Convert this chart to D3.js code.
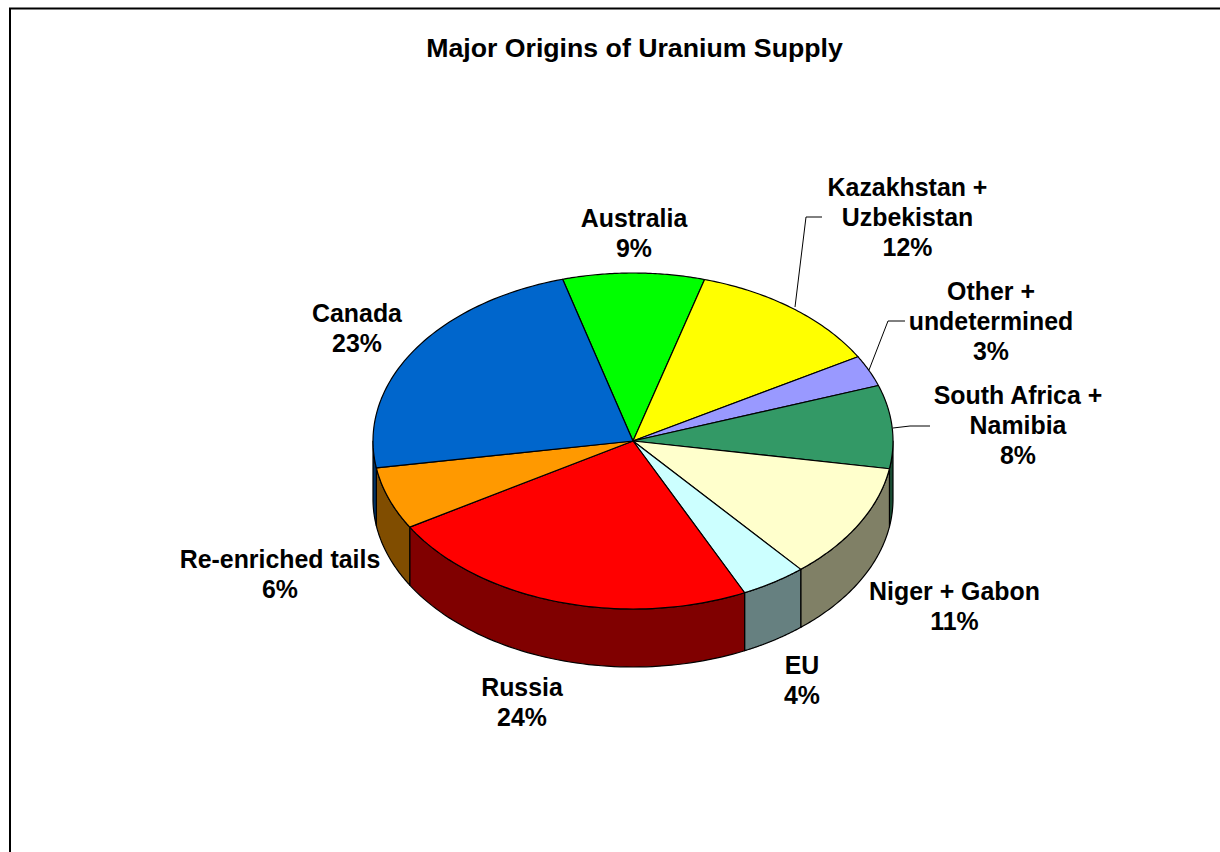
<!DOCTYPE html>
<html><head><meta charset="utf-8">
<script src="https://cdn.jsdelivr.net/npm/d3@7/dist/d3.min.js"></script>
<style>
html,body{margin:0;padding:0;background:#fff;overflow:hidden}
svg{display:block}
text{font-family:"Liberation Sans",Arial,sans-serif;font-weight:bold;fill:#000;text-anchor:middle}
</style></head><body>
<svg id="c" width="1220" height="852"></svg>
<script>
const categories=["Australia","Kazakhstan + Uzbekistan","Other + undetermined","South Africa + Namibia","Niger + Gabon","EU","Russia","Re-enriched tails","Canada"];
const values=[8.8,12.2,3.0,8.0,11.2,4.1,23.5,6.0,23.2];
const percentLabels=["9%","12%","3%","8%","11%","4%","24%","6%","23%"];
const topColors=["#00FF00","#FFFF00","#9999FF","#339966","#FFFFCC","#CCFFFF","#FF0000","#FF9900","#0066CC"];
const wallColors=["#008000","#808000","#4D4D80","#1A4D33","#808066","#668080","#800000","#804D00","#003366"];
const labelLines=[["Australia"],["Kazakhstan +","Uzbekistan"],["Other +","undetermined"],["South Africa +","Namibia"],["Niger + Gabon"],["EU"],["Russia"],["Re-enriched tails"],["Canada"]];
const labelCentres=[[634,218],[907.5,187],[991,291],[1018,395],[954.5,591],[802,665],[522,687],[280,559],[357,313]];
const leaders=[null,[[795,307],[806,217],[822,217]],[[869,370],[888,321],[905,321]],[[893,428],[910,426],[930,426]],null,null,null,null,null];

const title="Major Origins of Uranium Supply";
const cx=633,cy=441,rx=260,ry=168,depth=58,lineH=30;
const svg=d3.select("#c");
// The frame shows only its top and left edges in the reference
svg.append("path").attr("d",line2([[10,852],[10,8.5],[1220,8.5]]))
  .attr("fill","none").attr("stroke","#000").attr("stroke-width",2);
function line2(p){return d3.line()(p);}
svg.append("text").attr("x",634.5).attr("y",57).attr("font-size",26.7).text(title);

const start=-15.7*Math.PI/180;
const pie=d3.pie().sort(null).value(d=>d).startAngle(start).endAngle(start+2*Math.PI);
const arcs=pie(values);
const px=d3.scaleLinear().domain([-1,1]).range([cx-rx,cx+rx]);
const py=d3.scaleLinear().domain([-1,1]).range([cy-ry,cy+ry]);
const pt=(a,dz=0)=>[px(Math.sin(a)),py(-Math.cos(a))+dz];
const line=d3.line();
const samples=(a0,a1)=>d3.range(0,61).map(i=>a0+(a1-a0)*i/60);

// Side walls: only the near half of the rim is visible
const g=svg.append("g");
const wallRange=[Math.PI/2,3*Math.PI/2];
arcs.forEach((d,i)=>{
  [0,2*Math.PI].forEach(off=>{
    const a0=Math.max(d.startAngle+off,wallRange[0]),a1=Math.min(d.endAngle+off,wallRange[1]);
    if(a1<=a0)return;
    const s=samples(a0,a1);
    const pts=s.map(a=>pt(a)).concat(s.slice().reverse().map(a=>pt(a,depth)));
    g.append("path").attr("d",line(pts)+"Z").attr("fill",wallColors[i])
      .attr("stroke","#000").attr("stroke-width",1.2).attr("stroke-linejoin","round");
  });
});
// Top slices
arcs.forEach((d,i)=>{
  const pts=[[cx,cy]].concat(samples(d.startAngle,d.endAngle).map(a=>pt(a)));
  g.append("path").attr("d",line(pts)+"Z").attr("fill",topColors[i])
    .attr("stroke","#000").attr("stroke-width",1.2).attr("stroke-linejoin","round");
});
// Leader lines
leaders.forEach(l=>{
  if(l)svg.append("path").attr("d",line(l)).attr("fill","none").attr("stroke","#000").attr("stroke-width",1);
});
// Labels
categories.forEach((c,i)=>{
  const t=svg.append("text").attr("font-size",24.9);
  labelLines[i].concat([percentLabels[i]]).forEach((s,j)=>{
    t.append("tspan").attr("x",labelCentres[i][0]).attr("y",labelCentres[i][1]+8.5+j*lineH).text(s);
  });
});
</script></body></html>
